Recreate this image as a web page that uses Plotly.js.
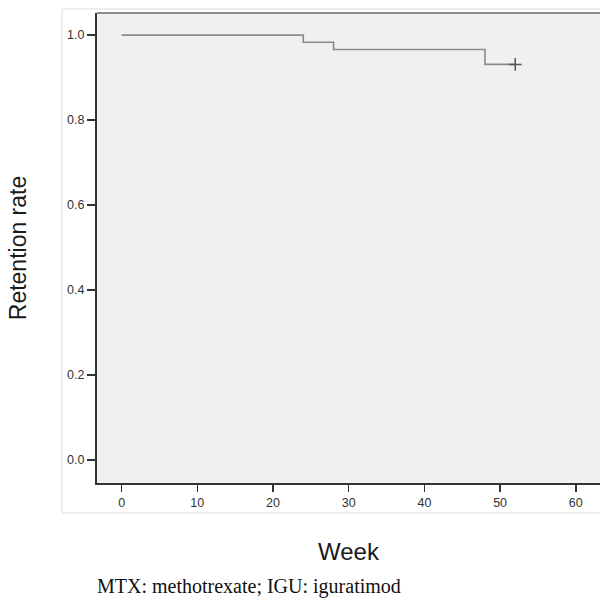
<!DOCTYPE html>
<html>
<head>
<meta charset="utf-8">
<script src="https://cdn.plot.ly/plotly-3.0.1.min.js"></script>
<style>html,body{margin:0;padding:0;background:#fff;}#chart{width:600px;height:602px;}</style>
</head>
<body>
<div id="chart"></div>
<script>
// Kaplan-Meier step data (week, retention rate)
const weeks = [0, 24, 28, 48, 52];
const retention = [1.0, 0.983, 0.966, 0.931, 0.931];
// censored observations
const censorWeeks = [52];
const censorRetention = [0.931];
const xTicks = [0, 10, 20, 30, 40, 50, 60];
const yTicks = [0.0, 0.2, 0.4, 0.6, 0.8, 1.0];
const yTickText = ['0.0', '0.2', '0.4', '0.6', '0.8', '1.0'];

const traces = [
  {
    x: weeks, y: retention, type: 'scatter', mode: 'lines',
    line: {shape: 'hv', color: '#8a8a8a', width: 1.6},
    hoverinfo: 'x+y', showlegend: false
  },
  {
    x: censorWeeks, y: censorRetention, type: 'scatter', mode: 'markers',
    marker: {symbol: 'cross-thin', size: 9, line: {color: '#555', width: 1.5}},
    showlegend: false
  }
];

const layout = {
  width: 600, height: 602,
  margin: {l: 97, r: 0, t: 13, b: 119},
  paper_bgcolor: '#ffffff',
  plot_bgcolor: '#eff0f2',
  font: {family: 'Liberation Sans, Arial, sans-serif', color: '#333'},
  xaxis: {
    range: [-3.25, 63.2],
    tickvals: xTicks,
    ticks: 'outside', ticklen: 7, tickwidth: 1.5, tickcolor: '#333',
    showgrid: false, zeroline: false,
    showline: true, linecolor: '#333', linewidth: 1.5,
    tickfont: {size: 12.5, color: '#333'},
    title: {text: 'Week', font: {size: 24, color: '#1a1a1a'}, standoff: 34}
  },
  yaxis: {
    range: [-0.054, 1.052],
    tickvals: yTicks, ticktext: yTickText,
    ticks: 'outside', ticklen: 8, tickwidth: 1.5, tickcolor: '#333',
    showgrid: false, zeroline: false,
    showline: true, linecolor: '#333', linewidth: 2,
    tickfont: {size: 12.5, color: '#333'},
    title: {text: 'Retention rate', font: {size: 23, color: '#1a1a1a'}, standoff: 34}
  },
  shapes: [
    {type: 'rect', xref: 'paper', yref: 'paper', x0: -0.0696, x1: 1.2, y0: -0.0638, y1: 1.0085,
     line: {color: '#dddddd', width: 1}, fillcolor: 'rgba(0,0,0,0)', layer: 'below'},
    {type: 'line', xref: 'paper', yref: 'paper', x0: 0, x1: 1, y0: 1, y1: 1,
     line: {color: '#8c8c8c', width: 2}}
  ],
  annotations: [
    {text: 'MTX: methotrexate; IGU: iguratimod', xref: 'paper', yref: 'paper',
     x: -0.004, y: -0.221, xanchor: 'left', yanchor: 'middle', showarrow: false,
     font: {family: 'Liberation Serif, Times New Roman, serif', size: 20, color: '#111'}}
  ]
};

Plotly.newPlot('chart', traces, layout, {displayModeBar: false, staticPlot: true});
</script>
</body>
</html>
